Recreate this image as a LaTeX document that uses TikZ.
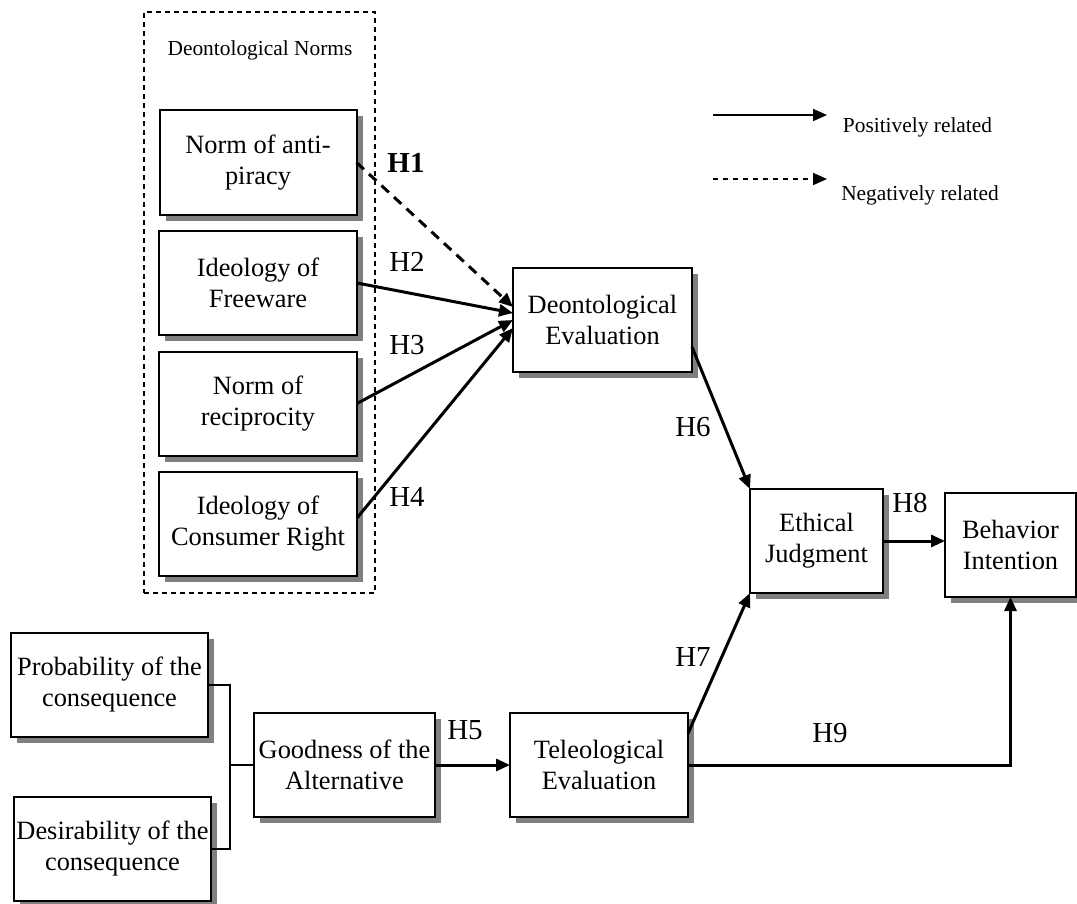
\documentclass[tikz,border=0pt]{standalone}
\usepackage{fontspec}
\setmainfont{Liberation Serif}
\usepackage{tikz}
\usetikzlibrary{calc}
\usetikzlibrary{positioning}
\usetikzlibrary{arrows.meta}
\usetikzlibrary{shadows}

\begin{document}
\begin{tikzpicture}
[x=0.5pt,y=-0.5pt,>={Triangle[length=7pt,width=6pt]}, box node/.style={rectangle,
    draw,line width=1pt,fill=white,align=center,minimum height=52pt,inner
    sep=0pt,outer sep=0pt,font=\fontsize{13.2}{15.5}\selectfont,
    drop shadow={shadow xshift=3pt,shadow yshift=-3pt,fill=black!50,opacity=1}},
  hyp node/.style={inner sep=0pt,outer sep=0pt,font=\fontsize{14.5}{16}\selectfont},
  small node/.style={inner sep=0pt,outer sep=0pt,font=\fontsize{10.7}{12}\selectfont},
  grp node/.style={rectangle,draw,line width=0.75pt,dash pattern=on 2.5pt off 2pt,
    inner sep=0pt,outer sep=0pt},
  pos arrow/.style={->,line width=1.5pt},
  neg arrow/.style={->,line width=1.5pt,dash pattern=on 5pt off 3.5pt},
  legend pos/.style={->,line width=1pt},
  legend neg/.style={->,line width=1pt,dash pattern=on 2.5pt off 2.5pt},
  bracket/.style={line width=1pt}]

    \useasboundingbox (0,0) rectangle (1077,904);

    % deontological norms
    \node [grp node, minimum width=115.5pt, minimum height=290.5pt] (norms) at (259.5,302.5) {};
    \node [small node] (normslbl) at (260,50) {Deontological Norms};
    \node [box node, minimum width=98.5pt] (anti) at (258,162.5) {Norm of anti-\\piracy};
    \node [box node, minimum width=99pt] (free) [below=8.25pt of anti] {Ideology of\\Freeware};
    \node [box node, minimum width=99pt] (recip) [below=8.25pt of free] {Norm of\\reciprocity};
    \node [box node, minimum width=99pt] (consum) [below=8.25pt of recip] {Ideology of\\Consumer Right};

    % evaluations and outcome
    \node [box node, minimum width=89.5pt] (deval) at (602.5,320) {Deontological\\Evaluation};
    \node [box node, minimum width=66.5pt] (ej) at (816.5,541) {Ethical\\Judgment};
    \node [box node, minimum width=65.5pt] (bi) at (1010.5,545) {Behavior\\Intention};

    % teleological side
    \node [box node, minimum width=98.5pt] (prob) at (109.5,684.5) {Probability of the\\consequence};
    \node [box node, minimum width=98.5pt] (desir) at (112.5,849) {Desirability of the\\consequence};
    \node [box node, minimum width=90.5pt] (good) at (344.5,765) {Goodness of the\\Alternative};
    \node [box node, minimum width=89pt] (teval) [right=37.5pt of good] {Teleological\\Evaluation};

    % hypotheses
    \node [hyp node] (h1) at (406,163) {\textbf{H1}};
    \node [hyp node] (h2) at (407,262) {H2};
    \node [hyp node] (h3) at (407,345) {H3};
    \node [hyp node] (h4) at (407,497) {H4};
    \node [hyp node] (h5) at (465,730) {H5};
    \node [hyp node] (h6) at (693,427) {H6};
    \node [hyp node] (h7) at (693,657) {H7};
    \node [hyp node] (h8) at (910,503) {H8};
    \node [hyp node] (h9) at (830,733) {H9};

    % legend
    \coordinate (posa) at (713,115);
    \coordinate (posb) at (827,115);
    \coordinate (nega) at (713,179);
    \coordinate (negb) at (827,179);
    \node [small node] (poslbl) at (917.5,127) {Positively related};
    \node [small node] (neglbl) at (920,195) {Negatively related};
    \draw[legend pos] (posa) -- (posb);
    \draw[legend neg] (nega) -- (negb);

    \coordinate (brk) at (230,765);
    \draw[bracket] (prob.east) -| (brk) |- (desir.east);
    \draw[bracket] (brk) -- (good.west);

    \draw[neg arrow] (anti.east) -- ($(deval.west)+(0,-13)$);
    \draw[pos arrow] (free.east) -- ($(deval.west)+(0,-7)$);
    \draw[pos arrow] (recip.east) -- (deval.west);
    \draw[pos arrow] ($(consum.east)+(0,-6)$) -- ($(deval.west)+(0,8)$);
    \draw[pos arrow] ($(deval.east)+(0,27)$) -- (ej.north west);
    \draw[pos arrow] ($(teval.east)+(0,-31.5)$) -- (ej.south west);
    \draw[pos arrow] (ej.east) -- (ej.east -| bi.west);
    \draw[pos arrow] (good.east) -- (teval.west);
    \draw[pos arrow] (teval.east) -| (bi.south);
\end{tikzpicture}
\end{document}
